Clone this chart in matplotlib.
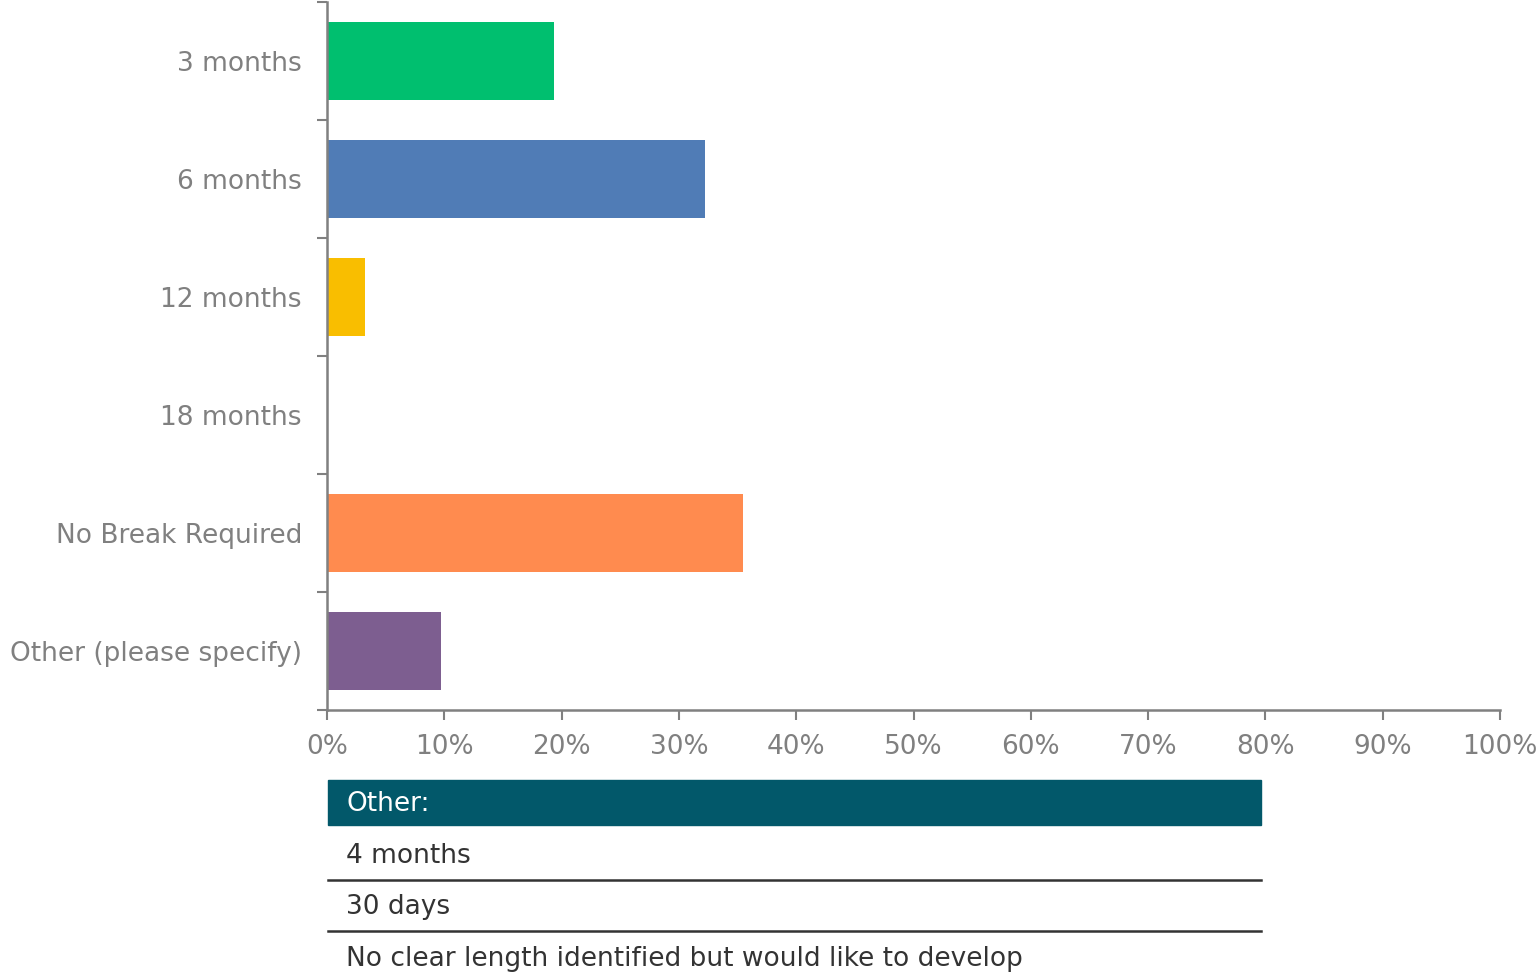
import matplotlib.pyplot as plt
from matplotlib.patches import Rectangle
from matplotlib.lines import Line2D
from matplotlib.ticker import FixedLocator, PercentFormatter

categories = ["3 months", "6 months", "12 months", "18 months",
              "No Break Required", "Other (please specify)"]
shares = [19.35, 32.26, 3.23, 0.0, 35.48, 9.68]
bar_colors = ["#00BF6F", "#507CB6", "#F9BE00", "#6BC8CD", "#FF8B4F", "#7D5E90"]
other_answers = ["4 months", "30 days",
                 "No clear length identified but would like to develop"]

W, H = 1537, 976
fig = plt.figure(figsize=(W / 100, H / 100), dpi=100)
grey = "#808080"
fs = 19


def fx(px):
    return px / W


def fy(py):
    return 1 - py / H


ax = fig.add_axes([fx(327), fy(710), fx(1500) - fx(327), fy(2) - fy(710)])
pos = list(range(len(categories)))
ax.barh(pos, shares, height=0.66, color=bar_colors)
ax.set_xlim(0, 100)
ax.set_ylim(len(categories) - 0.5, -0.5)

ax.set_xticks(range(0, 101, 10))
ax.xaxis.set_major_formatter(PercentFormatter(decimals=0))
ax.set_yticks(pos)
ax.set_yticklabels(categories)
ax.yaxis.set_minor_locator(FixedLocator([p - 0.5 for p in pos] + [len(pos) - 0.5]))
ax.tick_params(axis="y", which="major", length=0, pad=18, labelsize=fs, labelcolor=grey)
ax.tick_params(axis="y", which="minor", length=7.5, width=1.5, color=grey)
ax.tick_params(axis="x", length=7, width=1.5, color=grey, labelsize=fs,
               labelcolor=grey, pad=10)

for side in ["top", "right"]:
    ax.spines[side].set_visible(False)
for side in ["left", "bottom"]:
    ax.spines[side].set_color(grey)
    ax.spines[side].set_linewidth(1.8)

# table of "Other" answers under the chart
fig.patches.append(Rectangle((fx(328), fy(825)), fx(1261) - fx(328), fy(780) - fy(825),
                             transform=fig.transFigure, color="#02586A"))
fig.text(fx(346), fy(804), "Other:", color="white", fontsize=fs, va="center")
row_y = [856, 907, 959]
for i, (answer, y) in enumerate(zip(other_answers, row_y)):
    fig.text(fx(346), fy(y), answer, color="#333333", fontsize=fs, va="center")
    if i < len(other_answers) - 1:
        fig.add_artist(Line2D([fx(328), fx(1261)], [fy(y + 24), fy(y + 24)],
                              color="#333333", lw=1.8, transform=fig.transFigure))

fig.savefig("out.png", dpi=100)
